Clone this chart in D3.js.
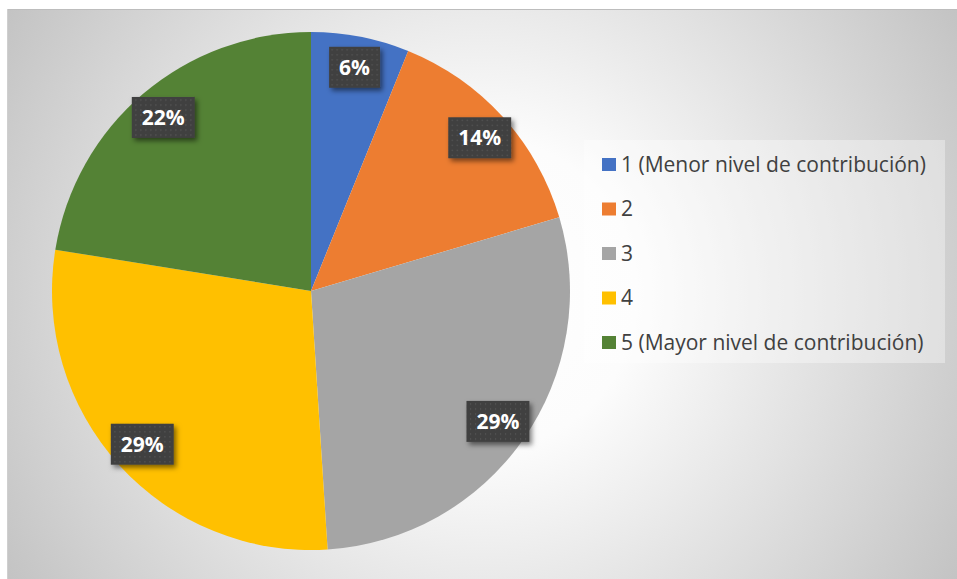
<!DOCTYPE html>
<html>
<head>
<meta charset="utf-8">
<script src="https://cdn.jsdelivr.net/npm/d3@7"></script>
<style>
  html, body { margin: 0; padding: 0; background: #ffffff; }
  svg { display: block; }
</style>
</head>
<body>
<svg id="chart" width="957" height="579"></svg>
<script>
// ---- data ----
const categories = ["1 (Menor nivel de contribución)", "2", "3", "4", "5 (Mayor nivel de contribución)"];
const counts = [3, 7, 14, 14, 11];
const colors = ["#4472C4", "#ED7D31", "#A5A5A5", "#FFC000", "#548235"];

const W = 957, H = 579;
const svg = d3.select("#chart");
const defs = svg.append("defs");

// background gradient
const grad = defs.append("radialGradient").attr("id", "bg")
  .attr("gradientUnits", "userSpaceOnUse")
  .attr("cx", 482).attr("cy", 294).attr("r", 556);
grad.append("stop").attr("offset", "0%").attr("stop-color", "#ffffff");
grad.append("stop").attr("offset", "28%").attr("stop-color", "#fcfcfc");
grad.append("stop").attr("offset", "100%").attr("stop-color", "#c3c3c3");

// dotted pattern for labels
const pat = defs.append("pattern").attr("id", "dots")
  .attr("patternUnits", "userSpaceOnUse").attr("width", 5).attr("height", 5);
pat.append("rect").attr("width", 5).attr("height", 5).attr("fill", "#404040");
pat.append("rect").attr("x", 2).attr("y", 2).attr("width", 1.2).attr("height", 1.2).attr("fill", "#5a5a5a");

// shadow filter
const f = defs.append("filter").attr("id", "shadow")
  .attr("x", "-30%").attr("y", "-30%").attr("width", "170%").attr("height", "180%");
f.append("feDropShadow").attr("dx", 2.5).attr("dy", 3).attr("stdDeviation", 2.5)
  .attr("flood-color", "#000").attr("flood-opacity", 0.5);

// chart area
svg.append("rect").attr("x", 7).attr("y", 9).attr("width", W - 7).attr("height", H - 9)
  .attr("fill", "url(#bg)");
svg.append("line").attr("x1", 7).attr("x2", W).attr("y1", 9.5).attr("y2", 9.5)
  .attr("stroke", "#bdbdbd").attr("stroke-width", 1);
svg.append("line").attr("x1", 7.5).attr("x2", 7.5).attr("y1", 9).attr("y2", H)
  .attr("stroke", "#cfcfcf").attr("stroke-width", 1);

// pie
const cx = 311, cy = 291, r = 259;
const total = d3.sum(counts);
const pie = d3.pie().sort(null).value(d => d)(counts);
const arc = d3.arc().innerRadius(0).outerRadius(r);
const g = svg.append("g").attr("transform", `translate(${cx},${cy})`);
g.selectAll("path").data(pie).join("path")
  .attr("d", arc)
  .attr("fill", (d, i) => colors[i]);

// labels
const labelArc = d3.arc().innerRadius(r * 0.88).outerRadius(r * 0.88);
const fmt = v => Math.round(v / total * 100) + "%";
const lab = g.selectAll("g.lab").data(pie).join("g").attr("class", "lab")
  .attr("transform", d => `translate(${labelArc.centroid(d)})`);
lab.append("rect").attr("fill", "url(#dots)").attr("filter", "url(#shadow)");
const txt = lab.append("text")
  .attr("text-anchor", "middle").attr("dy", "0.36em")
  .attr("font-family", "'Open Sans', 'Liberation Sans', sans-serif")
  .attr("font-weight", "bold").attr("font-size", 21)
  .attr("fill", "#ffffff")
  .text(d => fmt(d.value));
txt.each(function () {
  const w = this.getComputedTextLength();
  d3.select(this.previousSibling)
    .attr("x", -w / 2 - 10).attr("y", -20.5)
    .attr("width", w + 20).attr("height", 41);
});

// legend
const legX = 584, legY = 140, legW = 361, legH = 223;
svg.append("rect").attr("x", legX).attr("y", legY).attr("width", legW).attr("height", legH)
  .attr("fill", "#ffffff").attr("fill-opacity", 0.35);
const ly = d3.scalePoint().domain(categories).range([164.5, 342.5]);
const leg = svg.append("g").selectAll("g").data(categories).join("g")
  .attr("transform", d => `translate(602,${ly(d)})`);
leg.append("rect").attr("x", 0).attr("y", -6.5).attr("width", 14).attr("height", 13)
  .attr("fill", (d, i) => colors[i]);
leg.append("text").attr("x", 19).attr("dy", "0.35em")
  .attr("font-family", "'Open Sans', 'Liberation Sans', sans-serif")
  .attr("font-size", 21).attr("fill", "#404040")
  .text(d => d);
</script>
</body>
</html>
